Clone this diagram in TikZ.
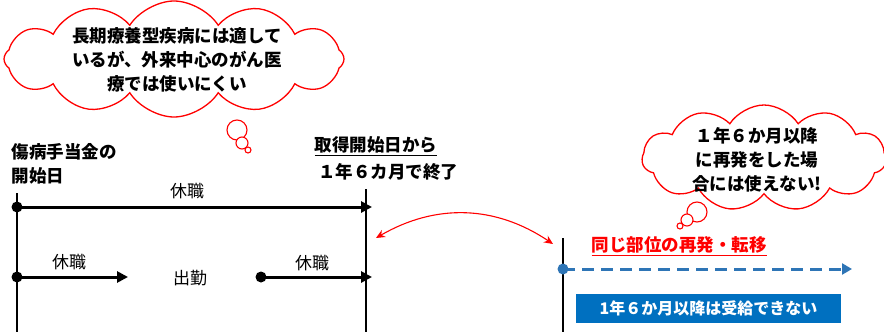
\documentclass[tikz,border=0pt]{standalone}
\usepackage{fontspec}
\setmainfont{Noto Sans CJK JP}
\usetikzlibrary{shapes.symbols,arrows.meta}
\definecolor{boxblue}{HTML}{0070C0}
\definecolor{dashblue}{HTML}{2E75B6}
\tikzset{
  thought/.style={cloud, draw=red, line width=1.3pt, fill=white, cloud puff arc=115},
  bubble/.style={circle, draw=red, line width=1.1pt, fill=white, inner sep=0pt},
  vline/.style={line width=1.4pt, black},
  tarrow/.style={line width=3pt, -{Triangle[length=11pt,width=11pt]}},
  dot/.style={circle, fill=black, inner sep=0pt, minimum size=11pt},
  lbl/.style={font=\fontsize{17}{22}\selectfont},
  blbl/.style={font=\fontsize{17.5}{24}\selectfont\bfseries},
}
\begin{document}
\begin{tikzpicture}[x=1pt,y=-1pt]
\useasboundingbox (0,0) rectangle (884,332);
% cloud 1
\node[thought, cloud puffs=12, aspect=3, minimum width=340pt, minimum height=116pt] (c1) at (174,59) {};
\node[blbl, align=center] (c1t) at (177,60) {長期療養型疾病には適して\\いるが、外来中心のがん医\\療では使いにくい};
\node[bubble, minimum size=20pt] (b11) at (237,130) {};
\node[bubble, minimum size=12pt] (b12) at (242,143) {};
\node[bubble, minimum size=6pt] (b13) at (248,150) {};
% cloud 2
\node[thought, cloud puffs=11, aspect=2.3, minimum width=244pt, minimum height=106pt] (c2) at (764,158) {};
\node[blbl, align=center] (c2t) at (757,160) {１年６か月以降\\に再発をした場\\合には使えない!};
\node[bubble, minimum size=20pt] (b21) at (697,212) {};
\node[bubble, minimum size=12pt] (b22) at (687,220) {};
\node[bubble, minimum size=6pt] (b23) at (680,226) {};
% labels
\node[blbl, align=left, anchor=west] (start) at (8,164) {傷病手当金の\\開始日};
\node[blbl] (endl1) at (376,146) {\underline{取得開始日から}};
\node[blbl] (endl2) at (388,172) {１年６カ月で終了};
% vertical lines
\coordinate (L1t) at (17,193); \coordinate (L1b) at (17,332);
\coordinate (R1t) at (366,189); \coordinate (R1b) at (366,332);
\coordinate (R2t) at (563,238); \coordinate (R2b) at (563,332);
\draw[vline] (L1t) -- (L1b);
\draw[vline] (R1t) -- (R1b);
\draw[vline] (R2t) -- (R2b);
% top arrow
\node[dot] (d1) at (17,207) {};
\coordinate (e1) at (372,207);
\draw[tarrow] (d1.center) -- (e1);
\node[lbl] (k1) at (187,191) {休職};
% bottom arrows
\node[dot] (d2) at (17,277) {};
\coordinate (e2) at (128,277);
\draw[tarrow] (d2.center) -- (e2);
\node[lbl] (k2) at (69,262) {休職};
\node[lbl] (w1) at (190,278) {出勤};
\node[dot] (d3) at (261,277) {};
\coordinate (e3) at (372,277);
\draw[tarrow] (d3.center) -- (e3);
\node[lbl] (k3) at (312,263) {休職};
% red curved arrow
\coordinate (ra) at (376,238);
\coordinate (rb) at (553,244);
\draw[red, line width=1.1pt, {Stealth[length=9pt,width=8pt]}-{Stealth[length=9pt,width=8pt]}] (ra) to[bend left=32] (rb);
% recurrence
\node[blbl, text=red] (rec) at (679,246) {\underline{同じ部位の再発・転移}};
\node[circle, fill=dashblue, inner sep=0pt, minimum size=11pt] (d4) at (563,269) {};
\coordinate (e4) at (852,269);
\draw[dashblue, line width=3pt, dash pattern=on 12pt off 7pt, -{Triangle[length=10pt,width=11pt]}] (d4.center) -- (e4);
\node[fill=boxblue, text=white, font=\fontsize{16}{20}\selectfont\bfseries, minimum width=265pt, minimum height=29pt, inner sep=0pt] (nb) at (708.5,308.5) {1年６か月以降は受給できない};
\end{tikzpicture}
\end{document}
